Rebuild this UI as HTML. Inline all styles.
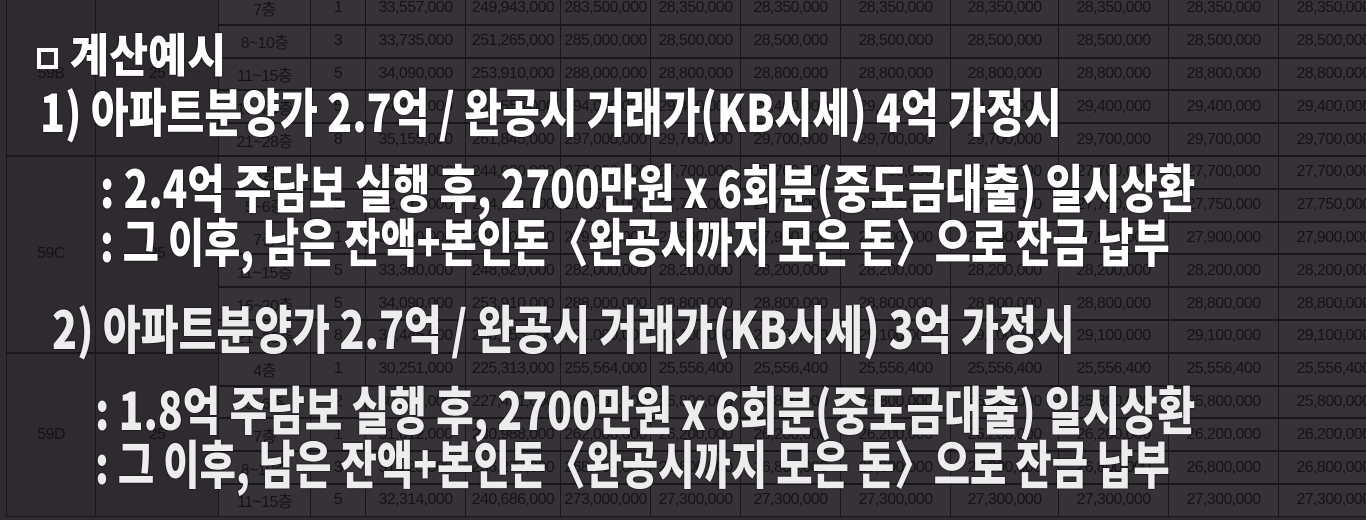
<!DOCTYPE html>
<html><head><meta charset="utf-8">
<style>
html,body{margin:0;padding:0;}
body{width:1366px;height:520px;overflow:hidden;background:#2e2a30;position:relative;font-family:"Liberation Sans","Noto Sans CJK KR",sans-serif;}
#tbl{position:absolute;left:0;top:0;width:1366px;height:520px;}
.cell{position:absolute;box-sizing:border-box;border:1.5px solid #19171b;color:#151316;font-size:16px;display:flex;align-items:center;justify-content:center;letter-spacing:-0.6px;background:#363238;}
.ov{position:absolute;white-space:nowrap;color:#fff;font-family:"Noto Sans CJK KR","NanumGothic",sans-serif;font-weight:900;transform-origin:0 0;line-height:1;text-shadow:0 0 2px #000;}
.sq{position:absolute;left:37px;top:48px;width:13px;height:13px;border:4px solid #fff;box-sizing:content-box;}
</style></head><body>
<div id="tbl"></div>
<div class="sq"></div>
<div class="ov" data-x="70" data-y="30" data-w="156" data-s="46">계산예시</div>
<div class="ov" data-x="40" data-y="84" data-w="1022" data-s="52">1) 아파트분양가 2.7억 / 완공시 거래가(KB시세) 4억 가정시</div>
<div class="ov" data-x="100" data-y="160" data-w="1095" data-s="52">: 2.4억 주담보 실행 후, 2700만원 x 6회분(중도금대출) 일시상환</div>
<div class="ov" data-x="100" data-y="214" data-w="1070" data-s="52">: 그 이후, 남은 잔액+본인돈〈완공시까지 모은 돈〉으로 잔금 납부</div>
<div class="ov" data-x="52" data-y="301" data-w="1023" data-s="52" style="color:#ededed">2) 아파트분양가 2.7억 / 완공시 거래가(KB시세) 3억 가정시</div>
<div class="ov" data-x="95" data-y="382" data-w="1100" data-s="52" style="color:#ededed">: 1.8억 주담보 실행 후, 2700만원 x 6회분(중도금대출) 일시상환</div>
<div class="ov" data-x="95" data-y="436" data-w="1075" data-s="52" style="color:#ededed">: 그 이후, 남은 잔액+본인돈〈완공시까지 모은 돈〉으로 잔금 납부</div>
<script>
const colX=[365,465,560,650,740,840,950,1058,1168,1278,1388];
const rowTop=-8, rowH=32.8;
const floors=["7층","8~10층","11~15층","16~20층","21~28층","4층","5~6층","7층","11~15층","16~20층","21~28층","4층","5~6층","7층","8~10층","11~15층"];
const counts=["1","3","5","5","8","1","2","1","5","5","8","1","2","1","3","5"];
const c1=["33,557,000","33,735,000","34,090,000","34,445,000","35,155,000","32,000,000","32,317,000","32,500,000","33,380,000","34,090,000","34,445,000","30,251,000","30,549,000","31,012,000","31,723,000","32,314,000"];
const c2=["249,943,000","251,265,000","253,910,000","256,555,000","261,845,000","244,000,000","244,433,000","245,600,000","248,620,000","253,910,000","256,555,000","225,313,000","227,451,000","230,988,000","236,277,000","240,686,000"];
const c3=["283,500,000","285,000,000","288,000,000","294,000,000","297,000,000","277,000,000","277,500,000","279,000,000","282,000,000","288,000,000","291,000,000","255,564,000","258,000,000","262,000,000","268,000,000","273,000,000"];
const inst=["28,350,000","28,500,000","28,800,000","29,400,000","29,700,000","27,700,000","27,750,000","27,900,000","28,200,000","28,800,000","29,100,000","25,556,400","25,800,000","26,200,000","26,800,000","27,300,000"];
const groups=[["59B",0,5],["59C",5,11],["59D",11,16]];
const T=document.getElementById('tbl');
function cell(x,y,w,h,t){const d=document.createElement('div');d.className='cell';
d.style.left=x+'px';d.style.top=y+'px';d.style.width=w+'px';d.style.height=h+'px';d.textContent=t;


T.appendChild(d);return d;}
groups.forEach(g=>{const y=rowTop+g[1]*rowH,h=(g[2]-g[1])*rowH;
const a=cell(6,y,90,h,g[0]);a.style.background='#2e2a30';
const b=cell(95,y,124,h,'25');b.style.background='#2e2a30';});
for(let i=0;i<floors.length;i++){const y=rowTop+i*rowH;
cell(218,y,93,rowH,floors[i]);cell(310,y,56,rowH,counts[i]);
const vals=[c1[i],c2[i],c3[i]];for(let k=0;k<7;k++)vals.push(inst[i]);
for(let k=0;k<vals.length;k++)cell(colX[k],y,colX[k+1]-colX[k]+1,rowH,vals[k]);}
document.querySelectorAll('.ov').forEach(e=>{e.style.fontSize=e.dataset.s+'px';
e.style.left=e.dataset.x+'px';e.style.top=e.dataset.y+'px';
const w=e.scrollWidth;e.style.transform='scaleX('+(e.dataset.w/w)+')';});
</script>
</body></html>
